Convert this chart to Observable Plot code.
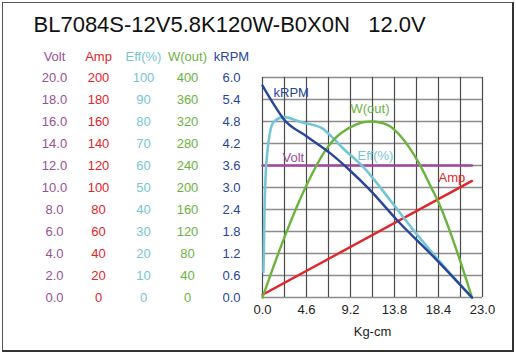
<!DOCTYPE html>
<html>
<head>
<meta charset="utf-8">
<script src="https://cdn.jsdelivr.net/npm/d3@7"></script>
<script src="https://cdn.jsdelivr.net/npm/@observablehq/plot@0.6"></script>
<style>
  body { margin: 0; background: #fff; }
  #wrap { position: relative; width: 516px; height: 355px; }
  #border { position: absolute; left: 2px; top: 2px; width: 512px; height: 350px; box-sizing: border-box;
    border-left: 1px solid #555; border-top: 1px solid #555; border-right: 2px solid #333; border-bottom: 2px solid #333; pointer-events: none; }
</style>
</head>
<body>
<div id="wrap"><div id="border"></div></div>
<script>
// ---- text ----
const title = "BL7084S-12V5.8K120W-B0X0N\u00A0\u00A0\u00A012.0V";
const seriesNames = ["Volt", "Amp", "Eff(%)", "W(out)", "kRPM"];
const xLabel = "Kg-cm";

// ---- tick labels ----
const xTicks = [0, 4.6, 9.2, 13.8, 18.4, 23.0];
const xGrid = [0, 2.3, 4.6, 6.9, 9.2, 11.5, 13.8, 16.1, 18.4, 20.7, 23.0];
const yGrid = [0, 1, 2, 3, 4, 5, 6, 7, 8, 9, 10];
const voltTicks = ["0.0", "2.0", "4.0", "6.0", "8.0", "10.0", "12.0", "14.0", "16.0", "18.0", "20.0"];
const ampTicks = ["0", "20", "40", "60", "80", "100", "120", "140", "160", "180", "200"];
const effTicks = ["0", "10", "20", "30", "40", "50", "60", "70", "80", "90", "100"];
const wTicks = ["0", "40", "80", "120", "160", "200", "240", "280", "320", "360", "400"];
const rpmTicks = ["0.0", "0.6", "1.2", "1.8", "2.4", "3.0", "3.6", "4.2", "4.8", "5.4", "6.0"];

// ---- series (torque in Kg-cm, value in own unit) ----
const voltT = [0, 21.9];
const voltV = [12.0, 12.0];
const ampT = [0, 21.9];
const ampV = [2.5, 106];
const effT = [0.1, 0.28, 0.63, 1.15, 2.2, 4.2, 6.2, 7.1, 8.5, 10.6, 13.3, 15.8, 18.3, 21.9];
const effV = [11.5, 51, 70.6, 79.7, 82, 79.5, 77, 73.6, 67.5, 59, 44.5, 30.5, 17.5, 0];
const wT = [0, 2.37, 4.6, 6.6, 7.45, 8.3, 9.7, 10.6, 11.4, 13.17, 14.56, 16.3, 17.7, 18.3, 21.9];
const wV = [0, 113, 204, 268, 287, 300, 314, 319, 320, 313, 291, 246, 198, 177, 0];
const rpmT = [0, 1.1, 2.2, 4.6, 7.1, 9.2, 11.1, 14.1, 18.3, 21.9];
const rpmV = [5.78, 5.3, 4.87, 4.40, 3.93, 3.45, 2.97, 2.1, 1.0, 0];

const colors = { volt: "#a0469c", amp: "#e2242b", eff: "#74c6d6", w: "#6cb33e", rpm: "#27459a" };
const textColors = { volt: "#9b4f96", amp: "#e2242b", eff: "#74c6d6", w: "#6cb33e", rpm: "#27459a" };

// normalise every series to 10 grid rows using its top tick label
const norm = (vals, ticks) => vals.map(v => v / (+ticks[ticks.length - 1]) * 10);
const toRows = (T, V, ticks) => T.map((t, i) => ({ t, u: norm(V, ticks)[i] }));

const volt = toRows(voltT, voltV, voltTicks);
const amp = toRows(ampT, ampV, ampTicks);
const eff = toRows(effT, effV, effTicks);
const wout = toRows(wT, wV, wTicks);
const rpm = toRows(rpmT, rpmV, rpmTicks);

const font = "Liberation Sans, Arial, Helvetica, sans-serif";
const L = 262, T = 77;

const yAxis = (ticks, color, center) => Plot.axisY(yGrid, {
  anchor: "left", tickSize: 0, tickPadding: 0, textAnchor: "middle", dx: center - L,
  tickFormat: i => ticks[i], fill: color, fontSize: 13, label: null
});
const header = (name, color, center) => Plot.text([name], {
  frameAnchor: "top-left", textAnchor: "middle", lineAnchor: "middle", dx: center - L, dy: 56 - T, fill: color, fontSize: 13
});
const inLabel = (name, color, dx, dy) => Plot.text([name], {
  frameAnchor: "top-left", textAnchor: "start", lineAnchor: "middle", dx, dy, fill: color, fontSize: 13
});

const chart = Plot.plot({
  width: 516, height: 355,
  marginLeft: 262, marginRight: 34, marginTop: 77, marginBottom: 58,
  style: { fontFamily: font, fontSize: "13px", background: "transparent", overflow: "visible" },
  x: { domain: [0, 23], axis: null },
  y: { domain: [0, 10], axis: null },
  marks: [
    Plot.ruleY(yGrid, { stroke: "#8c8c8c", strokeWidth: 1.5 }),
    Plot.ruleX(xGrid, { stroke: "#4a4a4a", strokeWidth: 1.2 }),
    Plot.line(volt, { x: "t", y: "u", stroke: colors.volt, strokeWidth: 2.4 }),
    Plot.line(amp, { x: "t", y: "u", stroke: colors.amp, strokeWidth: 2.4 }),
    Plot.line(eff, { x: "t", y: "u", stroke: colors.eff, strokeWidth: 2.6, curve: "monotone-x" }),
    Plot.line(wout, { x: "t", y: "u", stroke: colors.w, strokeWidth: 2.4, curve: "monotone-x" }),
    Plot.line(rpm, { x: "t", y: "u", stroke: colors.rpm, strokeWidth: 2.4, curve: "monotone-x" }),
    yAxis(voltTicks, textColors.volt, 54),
    yAxis(ampTicks, textColors.amp, 98),
    yAxis(effTicks, textColors.eff, 143),
    yAxis(wTicks, textColors.w, 187),
    yAxis(rpmTicks, textColors.rpm, 231),
    header(seriesNames[0], textColors.volt, 54),
    header(seriesNames[1], textColors.amp, 98),
    header(seriesNames[2], textColors.eff, 143),
    header(seriesNames[3], textColors.w, 187),
    header(seriesNames[4], textColors.rpm, 231),
    Plot.axisX(xTicks, { anchor: "bottom", tickSize: 0, tickPadding: 7, tickFormat: d => d.toFixed(1), fill: "#222", fontSize: 13, label: null }),
    Plot.text([xLabel], { frameAnchor: "bottom", lineAnchor: "middle", dy: 34, fill: "#222", fontSize: 13 }),
    Plot.text([title], { frameAnchor: "top-left", textAnchor: "start", lineAnchor: "middle", dx: 33 - L, dy: 24.5 - T, fill: "#111", fontSize: 22 }),
    inLabel(seriesNames[4], textColors.rpm, 11, 15),
    inLabel(seriesNames[3], textColors.w, 88, 31),
    inLabel(seriesNames[0], textColors.volt, 20, 80),
    inLabel(seriesNames[2], textColors.eff, 95, 78),
    inLabel(seriesNames[1], textColors.amp, 176, 100)
  ]
});
document.getElementById("wrap").prepend(chart);
</script>
</body>
</html>
